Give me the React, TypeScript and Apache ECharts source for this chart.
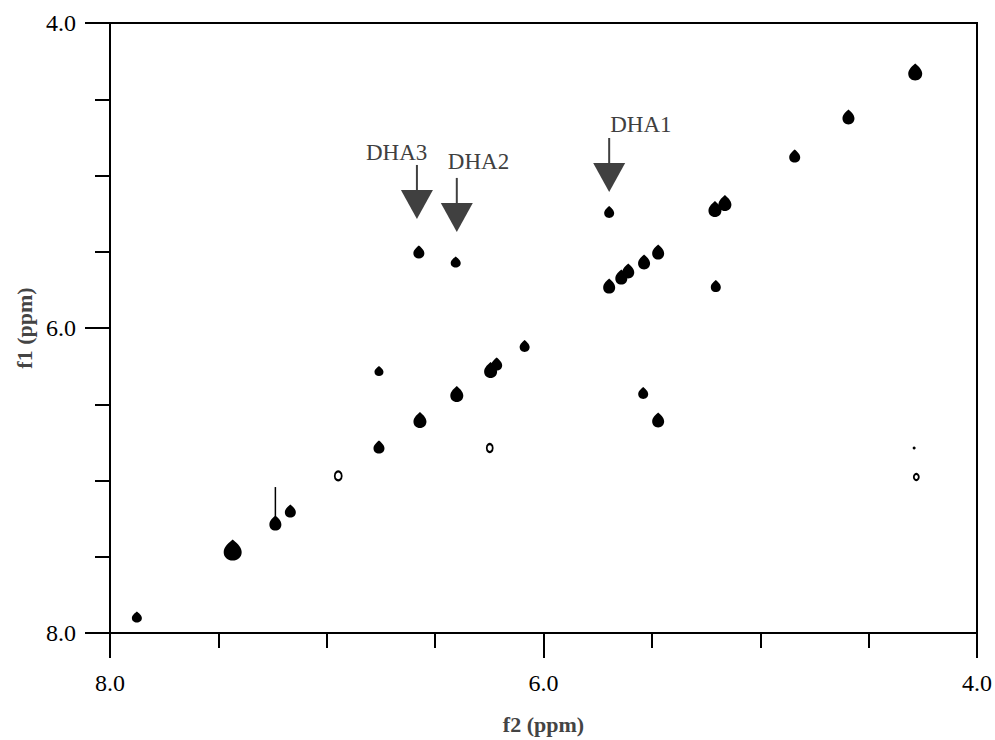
import React, { useEffect, useRef } from "react";
import * as echarts from "echarts";

// Cross/diagonal peaks (f2 ppm, f1 ppm, relative intensity)
const peakF2 = [4.285, 4.593, 4.841, 5.209, 5.163, 5.205, 5.697, 5.697, 5.641, 5.609, 5.536, 5.471, 5.54, 5.471, 6.575, 6.405, 6.087, 6.244, 6.216, 6.759, 6.4, 6.57, 6.759, 7.434, 7.237, 7.168, 7.876];
const peakF1 = [4.321, 4.616, 4.872, 5.22, 5.18, 5.725, 5.239, 5.725, 5.666, 5.626, 5.567, 5.502, 6.426, 6.603, 5.502, 5.567, 6.118, 6.275, 6.236, 6.282, 6.433, 6.603, 6.78, 7.456, 7.279, 7.2, 7.895];
const peakInt = [15, 13, 12, 14, 14, 11, 11, 13, 13, 13, 13, 13, 11, 13, 12, 10, 11, 14, 12, 9, 14, 14, 12, 19, 13, 12, 10];

// Weak contour peaks (single ring)
const weakF2 = [6.248, 6.947, 4.28];
const weakF1 = [6.787, 6.97, 6.977];
const weakInt = [8, 9, 6];

// Very weak dot
const dotF2 = [4.29];
const dotF1 = [6.787];

// t1 noise ridge above the 7.24 ppm peak
const ridgeF2 = [7.237, 7.237];
const ridgeF1 = [7.279, 7.043];

// Annotations: label, arrow tip (f2, f1)
const annLabels = ["DHA1", "DHA2", "DHA3"];
const annF2 = [5.697, 6.4, 6.584];
const annF1 = [5.108, 5.37, 5.285];

const axisMin = 4.0;
const axisMax = 8.0;

const FONT = "'Liberation Serif', 'Times New Roman', Times, serif";
const TEAR = "path://M10,0 C13,3 20,9 20,16 C20,23 15.5,27 10,27 C4.5,27 0,23 0,16 C0,9 7,3 10,0 Z";

export default function App() {
  const ref = useRef<HTMLDivElement>(null);
  useEffect(() => {
    if (!ref.current) return;
    const chart = echarts.init(ref.current, null, { renderer: "svg" });
    const peaks = peakF2.map((x, i) => [x, peakF1[i], peakInt[i]]);
    const weak = weakF2.map((x, i) => [x, weakF1[i], weakInt[i]]);
    const dots = dotF2.map((x, i) => [x, dotF1[i]]);
    const ridge = ridgeF2.map((x, i) => [x, ridgeF1[i]]);
    const axisCommon = {
      type: "value" as const,
      min: axisMin,
      max: axisMax,
      interval: 2,
      inverse: true,
      axisLine: { show: true, lineStyle: { color: "#000", width: 2 } },
      axisTick: { show: true, length: 25, lineStyle: { color: "#000", width: 2 } },
      minorTick: { show: true, splitNumber: 4, length: 15, lineStyle: { color: "#000", width: 2 } },
      splitLine: { show: false },
      minorSplitLine: { show: false },
      nameLocation: "middle" as const,
      nameTextStyle: { fontFamily: FONT, fontSize: 22, fontWeight: "bold" as const, color: "#444" },
    };
    chart.setOption({
      animation: false,
      grid: { left: 110, right: 15, top: 23, bottom: 107, show: true, borderColor: "#000", borderWidth: 2, backgroundColor: "#fff" },
      xAxis: {
        ...axisCommon,
        name: "f2 (ppm)",
        nameGap: 80,
        axisLabel: { margin: 38, fontFamily: FONT, fontSize: 24, color: "#000", formatter: (v: number) => v.toFixed(1) },
      },
      yAxis: {
        ...axisCommon,
        name: "f1 (ppm)",
        nameGap: 74,
        axisLabel: { margin: 34, fontFamily: FONT, fontSize: 24, color: "#000", formatter: (v: number) => v.toFixed(1) },
      },
      series: [
        {
          type: "line",
          data: ridge,
          symbol: "none",
          lineStyle: { color: "#000", width: 1.5 },
          z: 2,
        },
        {
          type: "scatter",
          data: peaks,
          symbol: TEAR,
          symbolSize: (v: number[]) => [Math.round(v[2] * 0.95), Math.round(v[2] * 1.12)],
          itemStyle: { color: "#000", opacity: 1 },
          z: 3,
        },
        {
          type: "scatter",
          data: weak,
          symbol: "circle",
          symbolSize: (v: number[]) => [Math.round(v[2] * 0.8), v[2]],
          itemStyle: { color: "#fff", borderColor: "#000", borderWidth: 2, opacity: 1 },
          z: 3,
        },
        {
          type: "scatter",
          data: dots,
          symbol: "circle",
          symbolSize: 3,
          itemStyle: { color: "#000", opacity: 1 },
          z: 3,
        },
      ],
    });

    const textOffsets = [
      [1, -67],
      [-9, -70],
      [-51, -66],
    ];
    const graphics: any[] = [];
    annLabels.forEach((lab, i) => {
      const p = chart.convertToPixel({ gridIndex: 0 }, [annF2[i], annF1[i]]) as number[];
      const x = p[0];
      const y = p[1];
      graphics.push({
        type: "line",
        shape: { x1: x, y1: y - 54, x2: x, y2: y - 28 },
        style: { stroke: "#404040", lineWidth: 2 },
        z: 10,
      });
      graphics.push({
        type: "polygon",
        shape: { points: [[x - 16, y - 29], [x + 16, y - 29], [x, y]] },
        style: { fill: "#404040" },
        z: 10,
      });
      graphics.push({
        type: "text",
        x: x + textOffsets[i][0],
        y: y + textOffsets[i][1],
        style: { text: lab, fontFamily: FONT, fontSize: 23, fill: "#404040", verticalAlign: "middle", align: "left" },
        z: 10,
      });
    });
    chart.setOption({ graphic: graphics });

    return () => chart.dispose();
  }, []);
  return <div ref={ref} style={{ position: "fixed", left: 0, top: 0, width: 995, height: 740, background: "#fff" }} />;
}
